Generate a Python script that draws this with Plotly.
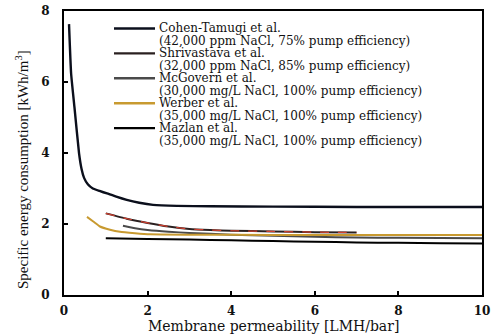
import plotly.graph_objects as go

# Membrane permeability [LMH/bar] vs specific energy consumption [kWh/m3]
cohen_x = [0.12, 0.17, 0.25, 0.36, 0.42, 0.48, 0.57, 0.69, 0.85, 1.03, 1.25, 1.5, 1.8, 2.13, 2.7, 3.5, 5, 7, 10]
cohen_y = [7.63, 6.24, 5.29, 3.99, 3.55, 3.3, 3.12, 3.0, 2.93, 2.86, 2.77, 2.68, 2.6, 2.54, 2.51, 2.5, 2.49, 2.48, 2.48]

shri_x = [1.0, 1.5, 2.0, 2.5, 3.0, 3.5, 4.0, 5.0, 6.0, 7.0]
shri_y = [2.3, 2.15, 2.03, 1.93, 1.86, 1.83, 1.81, 1.79, 1.77, 1.76]

mcg_x = [1.41, 1.7, 2.0, 2.5, 3.0, 4.0, 5.0, 6.0, 7.0, 8.0, 10.0]
mcg_y = [1.95, 1.88, 1.83, 1.78, 1.75, 1.7, 1.67, 1.64, 1.62, 1.61, 1.6]

werber_x = [0.55, 0.7, 0.86, 1.1, 1.34, 1.7, 2.06, 3.0, 5.0, 7.0, 10.0]
werber_y = [2.2, 2.07, 1.93, 1.84, 1.78, 1.74, 1.71, 1.7, 1.69, 1.69, 1.69]

mazlan_x = [1.0, 2.0, 3.0, 4.0, 5.0, 6.0, 7.0, 8.0, 9.0, 10.0]
mazlan_y = [1.6, 1.58, 1.56, 1.54, 1.52, 1.5, 1.48, 1.47, 1.46, 1.45]

series_names = ["Cohen-Tamugi et al.", "Shrivastava et al.", "McGovern et al.", "Werber et al.", "Mazlan et al."]
series_notes = [
    "(42,000 ppm NaCl, 75% pump efficiency)",
    "(32,000 ppm NaCl, 85% pump efficiency)",
    "(30,000 mg/L NaCl, 100% pump efficiency)",
    "(35,000 mg/L NaCl, 100% pump efficiency)",
    "(35,000 mg/L NaCl, 100% pump efficiency)",
]
series_colors = ["#0b0f1c", "#2a2020", "#4a4a4a", "#c89a30", "#000000"]
x_ticks = [0, 2, 4, 6, 8, 10]
y_ticks = [0, 2, 4, 6, 8]

SERIF = "DejaVu Serif"
TALL_SERIF = "Liberation Serif"

fig = go.Figure()

curves = [(cohen_x, cohen_y), (shri_x, shri_y), (mcg_x, mcg_y), (werber_x, werber_y), (mazlan_x, mazlan_y)]
widths = [2.4, 2, 2, 2, 2]
for (xs, ys), name, color, w in zip(curves, series_names, series_colors, widths):
    fig.add_trace(go.Scatter(x=xs, y=ys, mode="lines", name=name,
                             line=dict(color=color, width=w, shape="spline", smoothing=0.4),
                             showlegend=False))

# red dash accent running along the Shrivastava curve
fig.add_trace(go.Scatter(x=shri_x, y=shri_y, mode="lines", showlegend=False, hoverinfo="skip",
                         line=dict(color="#d04030", width=1.2, dash="dash", shape="spline", smoothing=0.4)))

# Legend block drawn inside the axes, each entry with a name line and a condition line
plot_left, plot_right, plot_top, plot_bottom = 64, 482, 11, 295
pw, ph = plot_right - plot_left, plot_bottom - plot_top


def px_x(px):
    return (px - plot_left) / pw


def px_y(py):
    return (plot_bottom - py) / ph


row_top, row_step = 28.5, 12.45
for i, (name, note, color) in enumerate(zip(series_names, series_notes, series_colors)):
    ny = row_top + 2 * i * row_step
    sy = ny + row_step
    fig.add_shape(type="line", xref="paper", yref="paper",
                  x0=px_x(114), x1=px_x(155), y0=px_y(ny), y1=px_y(ny),
                  line=dict(color=color, width=2.4))
    for text, row in ((name, ny), (note, sy)):
        fig.add_annotation(text=text, xref="paper", yref="paper", x=px_x(157), y=px_y(row),
                           xanchor="left", yanchor="middle", showarrow=False,
                           font=dict(family=SERIF, size=12, color="#111"))

fig.add_annotation(text="Specific energy consumption [kWh/m<sup>3</sup>]", xref="paper", yref="paper",
                   x=px_x(22), y=px_y(170), textangle=-90, xanchor="center", yanchor="middle",
                   showarrow=False, font=dict(family=TALL_SERIF, size=15, color="#111"))
fig.add_annotation(text="Membrane permeability [LMH/bar]", xref="paper", yref="paper",
                   x=px_x(273), y=px_y(326), xanchor="center", yanchor="middle",
                   showarrow=False, font=dict(family=SERIF, size=14, color="#111"))

axis_common = dict(showgrid=False, zeroline=False, showline=True, linecolor="black", linewidth=2,
                   mirror=True, ticks="inside", ticklen=4, tickwidth=1.5, tickcolor="black",
                   automargin=False,
                   tickfont=dict(family=SERIF, size=12, color="#111", weight="bold"))

fig.update_xaxes(range=[0, 10], tickvals=x_ticks, ticklabelstandoff=4, **axis_common)
fig.update_yaxes(range=[0, 8], tickvals=y_ticks, ticklabelstandoff=10, **axis_common)

fig.update_layout(width=492, height=335, margin=dict(l=64, r=10, t=11, b=40),
                  paper_bgcolor="white", plot_bgcolor="white", showlegend=False)

fig.write_html("out.html")
